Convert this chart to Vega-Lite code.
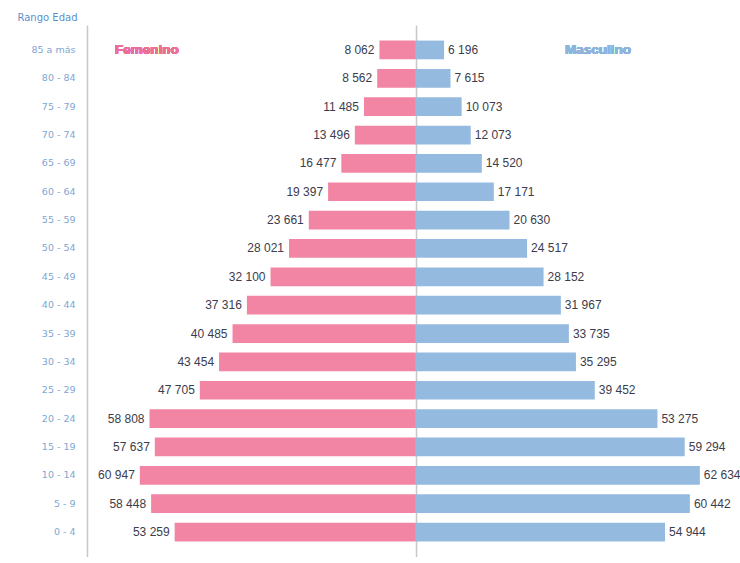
{
  "$schema": "https://vega.github.io/schema/vega-lite/v6.json",
  "padding": {"left": 17, "top": 12, "right": 0, "bottom": 0},
  "background": "white",
  "config": {
    "view": {"stroke": null},
    "locale": {"number": {"decimal": ",", "thousands": " ", "grouping": [3], "currency": ["", ""]}},
    "font": "Liberation Sans"
  },
  "datasets": {
    "pop": [
      {"edad": "85 a más", "sexo": "Femenino", "poblacion": 8062},
      {"edad": "80 - 84", "sexo": "Femenino", "poblacion": 8562},
      {"edad": "75 - 79", "sexo": "Femenino", "poblacion": 11485},
      {"edad": "70 - 74", "sexo": "Femenino", "poblacion": 13496},
      {"edad": "65 - 69", "sexo": "Femenino", "poblacion": 16477},
      {"edad": "60 - 64", "sexo": "Femenino", "poblacion": 19397},
      {"edad": "55 - 59", "sexo": "Femenino", "poblacion": 23661},
      {"edad": "50 - 54", "sexo": "Femenino", "poblacion": 28021},
      {"edad": "45 - 49", "sexo": "Femenino", "poblacion": 32100},
      {"edad": "40 - 44", "sexo": "Femenino", "poblacion": 37316},
      {"edad": "35 - 39", "sexo": "Femenino", "poblacion": 40485},
      {"edad": "30 - 34", "sexo": "Femenino", "poblacion": 43454},
      {"edad": "25 - 29", "sexo": "Femenino", "poblacion": 47705},
      {"edad": "20 - 24", "sexo": "Femenino", "poblacion": 58808},
      {"edad": "15 - 19", "sexo": "Femenino", "poblacion": 57637},
      {"edad": "10 - 14", "sexo": "Femenino", "poblacion": 60947},
      {"edad": "5 - 9", "sexo": "Femenino", "poblacion": 58448},
      {"edad": "0 - 4", "sexo": "Femenino", "poblacion": 53259},
      {"edad": "85 a más", "sexo": "Masculino", "poblacion": 6196},
      {"edad": "80 - 84", "sexo": "Masculino", "poblacion": 7615},
      {"edad": "75 - 79", "sexo": "Masculino", "poblacion": 10073},
      {"edad": "70 - 74", "sexo": "Masculino", "poblacion": 12073},
      {"edad": "65 - 69", "sexo": "Masculino", "poblacion": 14520},
      {"edad": "60 - 64", "sexo": "Masculino", "poblacion": 17171},
      {"edad": "55 - 59", "sexo": "Masculino", "poblacion": 20630},
      {"edad": "50 - 54", "sexo": "Masculino", "poblacion": 24517},
      {"edad": "45 - 49", "sexo": "Masculino", "poblacion": 28152},
      {"edad": "40 - 44", "sexo": "Masculino", "poblacion": 31967},
      {"edad": "35 - 39", "sexo": "Masculino", "poblacion": 33735},
      {"edad": "30 - 34", "sexo": "Masculino", "poblacion": 35295},
      {"edad": "25 - 29", "sexo": "Masculino", "poblacion": 39452},
      {"edad": "20 - 24", "sexo": "Masculino", "poblacion": 53275},
      {"edad": "15 - 19", "sexo": "Masculino", "poblacion": 59294},
      {"edad": "10 - 14", "sexo": "Masculino", "poblacion": 62634},
      {"edad": "5 - 9", "sexo": "Masculino", "poblacion": 60442},
      {"edad": "0 - 4", "sexo": "Masculino", "poblacion": 54944}
    ]
  },
  "spacing": 0,
  "hconcat": [
    {
      "width": 329,
      "height": 532,
      "data": {"name": "pop"},
      "transform": [{"filter": "datum.sexo === 'Femenino'"}],
      "encoding": {
        "y": {
          "field": "edad", "type": "nominal",
          "sort": ["85 a más", "80 - 84", "75 - 79", "70 - 74", "65 - 69", "60 - 64", "55 - 59", "50 - 54", "45 - 49", "40 - 44", "35 - 39", "30 - 34", "25 - 29", "20 - 24", "15 - 19", "10 - 14", "5 - 9", "0 - 4"],
          "scale": {"paddingInner": 0.34, "paddingOuter": 0.55},
          "axis": {
            "title": "Rango Edad", "titleAngle": 0, "titleAlign": "left", "titleBaseline": "middle",
            "titleX": -70, "titleY": -8, "titleFontSize": 10, "titleFontWeight": "normal", "titleColor": "#5b8fd0",
            "titleFont": "DejaVu Sans",
            "ticks": false, "labelPadding": 12, "labelFontSize": 9.5, "labelColor": "#7ea6d3", "labelFont": "DejaVu Sans",
            "domainColor": "#c8c8c8", "domainWidth": 1.5
          }
        }
      },
      "layer": [
        {
          "mark": {"type": "bar", "color": "#f285a3"},
          "encoding": {
            "x": {"field": "poblacion", "type": "quantitative", "scale": {"domain": [0, 72600], "reverse": true, "nice": false}, "axis": null}
          }
        },
        {
          "mark": {"type": "text", "align": "right", "dx": -5, "fontSize": 12, "color": "#3c3c4c"},
          "encoding": {
            "x": {"field": "poblacion", "type": "quantitative"},
            "text": {"field": "poblacion", "type": "quantitative", "format": ",d"}
          }
        },
        {
          "mark": {"type": "text", "align": "left", "fontSize": 13.5, "fontWeight": "bold", "color": "#ec6f96", "font": "Liberation Sans"},
          "encoding": {
            "x": {"datum": 66400, "type": "quantitative"},
            "y": {"datum": "85 a más", "type": "nominal"},
            "text": {"value": "Femenino"}
          }
        }
      ]
    },
    {
      "width": 329,
      "height": 532,
      "data": {"name": "pop"},
      "transform": [{"filter": "datum.sexo === 'Masculino'"}],
      "encoding": {
        "y": {
          "field": "edad", "type": "nominal",
          "sort": ["85 a más", "80 - 84", "75 - 79", "70 - 74", "65 - 69", "60 - 64", "55 - 59", "50 - 54", "45 - 49", "40 - 44", "35 - 39", "30 - 34", "25 - 29", "20 - 24", "15 - 19", "10 - 14", "5 - 9", "0 - 4"],
          "scale": {"paddingInner": 0.34, "paddingOuter": 0.55},
          "axis": {"title": null, "labels": false, "ticks": false, "domainColor": "#c8c8c8", "domainWidth": 1.5}
        }
      },
      "layer": [
        {
          "mark": {"type": "bar", "color": "#95badf"},
          "encoding": {
            "x": {"field": "poblacion", "type": "quantitative", "scale": {"domain": [0, 72600], "nice": false}, "axis": null}
          }
        },
        {
          "mark": {"type": "text", "align": "left", "dx": 4, "fontSize": 12, "color": "#3c3c4c"},
          "encoding": {
            "x": {"field": "poblacion", "type": "quantitative"},
            "text": {"field": "poblacion", "type": "quantitative", "format": ",d"}
          }
        },
        {
          "mark": {"type": "text", "align": "left", "fontSize": 13.5, "fontWeight": "bold", "color": "#8fb4dc", "font": "Liberation Sans"},
          "encoding": {
            "x": {"datum": 32900, "type": "quantitative"},
            "y": {"datum": "85 a más", "type": "nominal"},
            "text": {"value": "Masculino"}
          }
        }
      ]
    }
  ]
}
